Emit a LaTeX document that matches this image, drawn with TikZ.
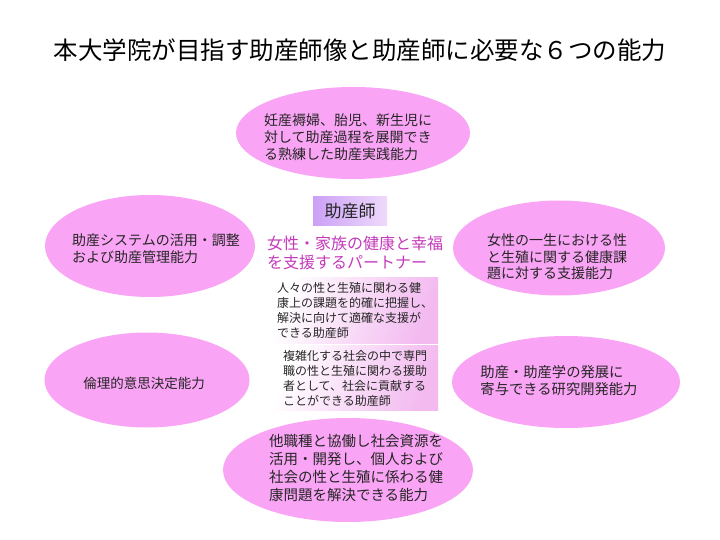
\documentclass[tikz,border=0pt]{standalone}
\usepackage{fontspec}
\setmainfont{Noto Sans CJK JP}
\usetikzlibrary{shapes.geometric}
\definecolor{abilitypink}{RGB}{249,164,244}
\definecolor{partnermag}{RGB}{196,58,186}
\definecolor{midwifelav}{RGB}{203,160,246}
\definecolor{midwifelight}{RGB}{238,218,251}
\definecolor{rolepink}{RGB}{243,186,240}

\begin{document}
\begin{tikzpicture}[x=1pt, y=-1pt,
  every node/.style={text=black!85},
  ability/.style={ellipse, fill=abilitypink, inner sep=0pt},
  abilitytext/.style={align=left, inner sep=0pt},
  rolebox/.style={
    left color=white, right color=rolepink, shading angle=70,
    minimum width=166, minimum height=66, inner sep=0pt,
    align=left, font=\fontsize{12}{15}\selectfont
  },
  midwife/.style={
    left color=midwifelav, right color=midwifelight,
    minimum width=74, minimum height=29, inner sep=0pt,
    font=\fontsize{17}{20}\selectfont
  }
]
  \useasboundingbox (0,0) rectangle (720,540);

  % title
  \node[font=\fontsize{24.5}{28}\selectfont, text=black] (title) at (360,50)
    {本大学院が目指す助産師像と助産師に必要な６つの能力};

  % six abilities
  \node[ability, minimum width=234, minimum height=92] (practice) at (353,133) {};
  \node[abilitytext, font=\fontsize{14}{17}\selectfont] (practicetext) at (348,137)
    {妊産褥婦、胎児、新生児に\\対して助産過程を展開でき\\る熟練した助産実践能力};
  \node[ability, minimum width=210, minimum height=102] (manage) at (150,246) {};
  \node[abilitytext, font=\fontsize{14}{17}\selectfont] (managetext) at (156,249)
    {助産システムの活用・調整\\および助産管理能力};
  \node[ability, minimum width=212, minimum height=95] (support) at (559,248) {};
  \node[abilitytext, font=\fontsize{14}{16.5}\selectfont] (supporttext) at (557,257)
    {女性の一生における性\\と生殖に関する健康課\\題に対する支援能力};
  \node[ability, minimum width=205, minimum height=95] (ethics) at (147,380) {};
  \node[abilitytext, font=\fontsize{13.5}{16}\selectfont] (ethicstext) at (144,383)
    {倫理的意思決定能力};
  \node[ability, minimum width=228, minimum height=92] (research) at (566,382) {};
  \node[abilitytext, font=\fontsize{14.3}{17}\selectfont] (researchtext) at (559,381)
    {助産・助産学の発展に\\寄与できる研究開発能力};
  \node[ability, minimum width=250, minimum height=104] (collab) at (348,470) {};
  \node[abilitytext, font=\fontsize{14.5}{18}\selectfont] (collabtext) at (356,468)
    {他職種と協働し社会資源を\\活用・開発し、個人および\\社会の性と生殖に係わる健\\康問題を解決できる能力};

  % centre: midwife image
  \node[midwife] (midwife) at (350,211) {助産師};
  \node[text=partnermag, align=left, font=\fontsize{16}{19}\selectfont] (partner) at (355,253)
    {女性・家族の健康と幸福\\を支援するパートナー};
  \node[rolebox] (role1) at (355,310)
    {人々の性と生殖に関わる健\\康上の課題を的確に把握し、\\解決に向けて適確な支援が\\できる助産師};
  \node[rolebox, minimum height=65] (role2) at (355,378)
    {複雑化する社会の中で専門\\職の性と生殖に関わる援助\\者として、社会に貢献する\\ことができる助産師};
\end{tikzpicture}
\end{document}
